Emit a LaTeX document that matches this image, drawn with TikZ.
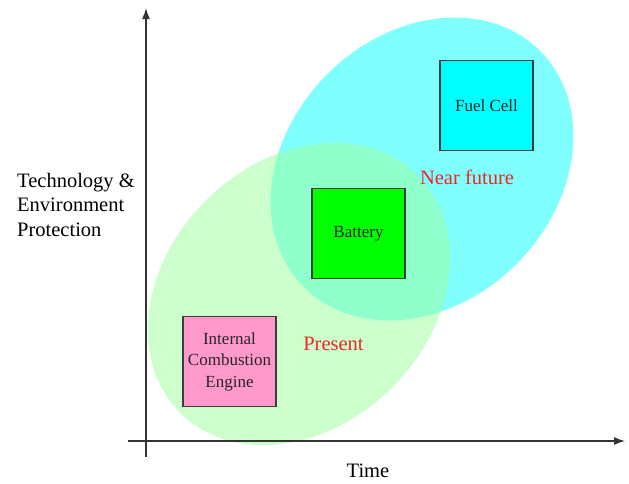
\documentclass[tikz,border=0pt]{standalone}
\usepackage{fontspec}
\setmainfont{Liberation Serif}
\newfontfamily\tnrfont{Liberation Serif}
\usetikzlibrary{arrows.meta}
\definecolor{cyanE}{RGB}{128,255,255}
\definecolor{greenE}{RGB}{157,255,157}
\definecolor{pinkB}{RGB}{255,153,204}
\definecolor{greenB}{RGB}{0,255,0}
\definecolor{cyanB}{RGB}{0,255,255}
\definecolor{boxline}{RGB}{60,60,60}
\definecolor{redT}{RGB}{235,40,40}
\begin{document}
\begin{tikzpicture}[x=1pt,y=-1pt,
  techbox/.style={draw=boxline, line width=1.1pt, minimum width=93pt, minimum height=90pt,
    inner sep=0pt, text=black!85, font=\tnrfont\fontsize{17}{21.5}\selectfont, align=center},
  biglabel/.style={font=\tnrfont\fontsize{20.5}{24.5}\selectfont, anchor=base, inner sep=0pt},
  axisline/.style={line width=1.3pt, draw=black!80, -{Latex[length=11pt,width=8pt]}}]
\useasboundingbox (0,0) rectangle (629,483);
% regions
\fill[cyanE, shift={(422,169)}, rotate=45] (0,0) ellipse [x radius=167, y radius=134];
\fill[greenE, fill opacity=0.52, shift={(299,294)}, rotate=45] (0,0) ellipse [x radius=168, y radius=132];
% axes
\coordinate (yStart) at (146,457);
\coordinate (yEnd) at (146,8);
\coordinate (xStart) at (128,441);
\coordinate (xEnd) at (625,441);
\draw[axisline] (yStart) -- (yEnd);
\draw[axisline] (xStart) -- (xEnd);
% boxes
\node[techbox, fill=cyanB] (fuel) at (486.5,105.5) {Fuel Cell};
\node[techbox, fill=greenB] (battery) at (358.5,233.5) {Battery};
\node[techbox, fill=pinkB] (ice) at (229.5,361.5) {Internal\\Combustion\\Engine};
% labels
\node[biglabel, text=redT] (near) at (467,184) {Near future};
\node[biglabel, text=redT] (present) at (333.5,350) {Present};
\node[biglabel] (time) at (368,477) {Time};
\node[font=\tnrfont\fontsize{20.5}{24.5}\selectfont, anchor=base west, align=left, inner sep=0pt] (ylabel) at (17,236) {Technology \&\\Environment\\Protection};
\end{tikzpicture}
\end{document}
